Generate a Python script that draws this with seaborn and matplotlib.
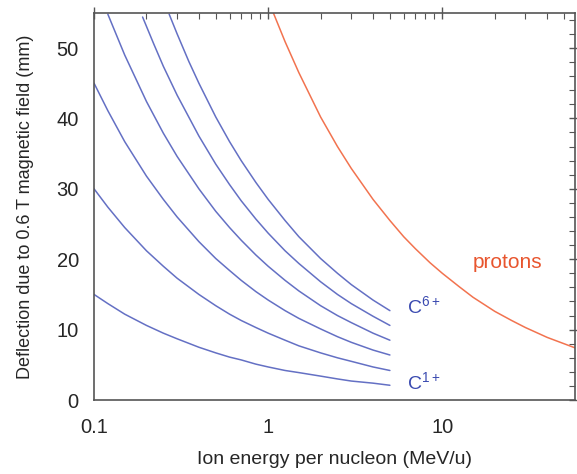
import numpy as np
import pandas as pd
import matplotlib.pyplot as plt
import seaborn as sns
from matplotlib.ticker import FixedLocator, MultipleLocator, NullFormatter

# ----------------------------------------------------------------------------------------------
# Values
# ----------------------------------------------------------------------------------------------
energy_c = [0.1, 0.12, 0.15, 0.2, 0.25, 0.3, 0.4, 0.5, 0.6, 0.7, 0.85, 1, 1.25, 1.5, 2, 2.5, 3, 4, 5]
c1 = [15, 13.7, 12.2, 10.6, 9.5, 8.7, 7.5, 6.7, 6.1, 5.7, 5.1, 4.7, 4.2, 3.9, 3.4, 3.0, 2.7, 2.4, 2.1]
c2 = [30, 27.4, 24.5, 21.2, 19.0, 17.3, 15.0, 13.4, 12.2, 11.3, 10.3, 9.5, 8.5, 7.7, 6.7, 6.0, 5.5, 4.7, 4.2]
c3 = [45, 41.1, 36.7, 31.8, 28.5, 26.0, 22.5, 20.1, 18.4, 17.0, 15.4, 14.2, 12.7, 11.6, 10.1, 9.0, 8.2, 7.1, 6.4]

energy_c4 = [0.12, 0.15, 0.2, 0.25, 0.3, 0.4, 0.5, 0.6, 0.7, 0.85, 1, 1.25, 1.5, 2, 2.5, 3, 4, 5]
c4 = [54.8, 49.0, 42.4, 37.9, 34.6, 30.0, 26.8, 24.5, 22.7, 20.6, 19.0, 17.0, 15.5, 13.4, 12.0, 11.0, 9.5, 8.5]

energy_c5 = [0.19, 0.22, 0.25, 0.3, 0.4, 0.5, 0.6, 0.7, 0.85, 1, 1.25, 1.5, 2, 2.5, 3, 4, 5]
c5 = [54.4, 50.6, 47.4, 43.3, 37.5, 33.5, 30.6, 28.3, 25.7, 23.7, 21.2, 19.4, 16.8, 15.0, 13.7, 11.9, 10.6]

energy_c6 = [0.27, 0.3, 0.35, 0.4, 0.5, 0.6, 0.7, 0.85, 1, 1.25, 1.5, 2, 2.5, 3, 4, 5]
c6 = [54.8, 52.0, 48.1, 45.0, 40.2, 36.7, 34.0, 30.9, 28.5, 25.5, 23.2, 20.1, 18.0, 16.4, 14.2, 12.7]

energy_p = [1.07, 1.25, 1.5, 2, 2.5, 3, 4, 5, 6, 7, 8.5, 10, 12.5, 15, 20, 25, 30, 40, 50, 58]
protons = [55, 50.9, 46.5, 40.2, 36.0, 32.9, 28.5, 25.5, 23.2, 21.5, 19.5, 18.0, 16.1, 14.6, 12.6,
           11.3, 10.3, 8.9, 8.0, 7.4]

# ----------------------------------------------------------------------------------------------
carbon = pd.concat([
    pd.DataFrame({"energy": energy_c, "defl": c1, "ion": "C1+"}),
    pd.DataFrame({"energy": energy_c, "defl": c2, "ion": "C2+"}),
    pd.DataFrame({"energy": energy_c, "defl": c3, "ion": "C3+"}),
    pd.DataFrame({"energy": energy_c4, "defl": c4, "ion": "C4+"}),
    pd.DataFrame({"energy": energy_c5, "defl": c5, "ion": "C5+"}),
    pd.DataFrame({"energy": energy_c6, "defl": c6, "ion": "C6+"}),
])
proton_df = pd.DataFrame({"energy": energy_p, "defl": protons})

sns.set_style("white")
plt.rcParams["font.family"] = ["Liberation Sans", "DejaVu Sans"]
plt.rcParams["mathtext.fontset"] = "custom"
plt.rcParams["mathtext.rm"] = "Liberation Sans"
plt.rcParams["mathtext.it"] = "Liberation Sans"

blue = "#6470c4"
orange = "#f2734f"

fig = plt.figure(figsize=(5.77, 4.74), dpi=100)
ax = fig.add_axes([0.163, 0.156, 0.834, 0.817])

sns.lineplot(data=carbon, x="energy", y="defl", units="ion", estimator=None,
             color=blue, lw=1.1, ax=ax, sort=False)
sns.lineplot(data=proton_df, x="energy", y="defl", color=orange, lw=1.1, ax=ax, sort=False)

ax.set_xscale("log")
ax.set_xlim(0.1, 58)
ax.set_ylim(0, 55)
ax.set_xticks([0.1, 1, 10])
ax.set_xticklabels(["0.1", "1", "10"])
ax.xaxis.set_minor_locator(FixedLocator(
    [m * 10.0 ** e for e in (-1, 0, 1) for m in range(2, 10) if m * 10.0 ** e < 58]))
ax.xaxis.set_minor_formatter(NullFormatter())
ax.yaxis.set_major_locator(MultipleLocator(10))
ax.yaxis.set_minor_locator(MultipleLocator(2))

for s in ax.spines.values():
    s.set_color("#555555")
    s.set_linewidth(1.2)
ax.tick_params(which="major", direction="inout", length=8, width=1, color="#555555",
               top=True, right=True, labelsize=14.5, pad=7)
ax.tick_params(which="major", axis="x", pad=9)
ax.tick_params(which="minor", direction="in", length=4, width=0.8, color="#555555",
               top=True, right=True)

ax.set_xlabel("Ion energy per nucleon (MeV/u)", fontsize=14, labelpad=10)
ax.set_ylabel("Deflection due to 0.6 T magnetic field (mm)", fontsize=13, labelpad=16)

ax.text(6.3, 13.4, r"C$^{6+}$", color="#3a4ab0", fontsize=14, va="center")
ax.text(6.3, 2.6, r"C$^{1+}$", color="#3a4ab0", fontsize=14, va="center")
ax.text(15, 19.6, "protons", color="#e8552e", fontsize=15, va="center")

plt.savefig("out.png", dpi=100)
plt.close()
